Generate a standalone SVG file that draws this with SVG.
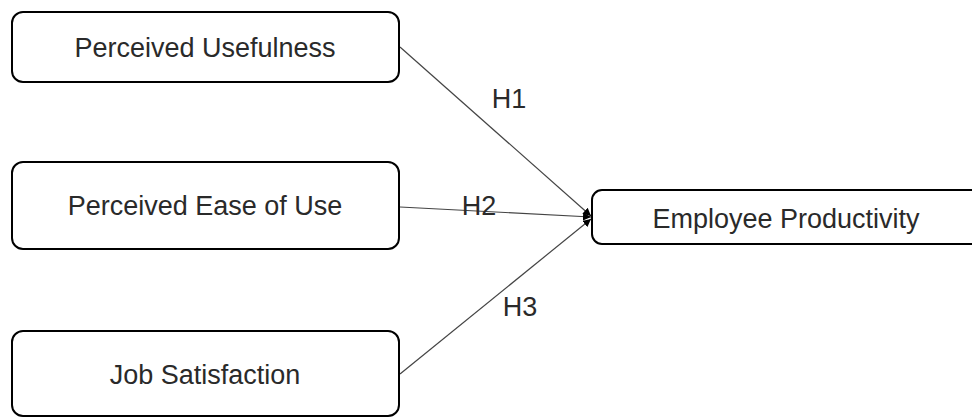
<svg xmlns="http://www.w3.org/2000/svg" width="972" height="417" viewBox="0 0 972 417">
<style>
.box{fill:#fff;stroke:#000;stroke-width:2}
.lbl{font-family:"Liberation Sans",Arial,sans-serif;font-size:27px;fill:#2a2a2a;text-anchor:middle}
.edge{stroke:#444;stroke-width:1.2;fill:none;marker-end:url(#arr)}
</style>
<defs>
<marker id="arr" viewBox="0 0 10 10" refX="10" refY="5" markerWidth="8" markerHeight="8" markerUnits="userSpaceOnUse" orient="auto">
<path d="M0,0 L10,5 L0,10 z" fill="#000"/>
</marker>
</defs>
<rect x="0" y="0" width="972" height="417" fill="#fff"/>
<g id="connectors">
<line class="edge" x1="400" y1="47" x2="591" y2="216"/>
<line class="edge" x1="400" y1="207" x2="591" y2="217"/>
<line class="edge" x1="400" y1="374" x2="591" y2="219"/>
<text class="lbl" x="509" y="108">H1</text>
<text class="lbl" x="479" y="215">H2</text>
<text class="lbl" x="520" y="316">H3</text>
</g>
<g id="perceived-usefulness">
<rect class="box" x="12" y="12" width="387" height="70" rx="11"/>
<text class="lbl" x="205" y="57">Perceived Usefulness</text>
</g>
<g id="perceived-ease">
<rect class="box" x="12" y="162" width="387" height="87" rx="11"/>
<text class="lbl" x="205" y="215">Perceived Ease of Use</text>
</g>
<g id="job-satisfaction">
<rect class="box" x="12" y="331" width="387" height="85" rx="11"/>
<text class="lbl" x="205" y="384">Job Satisfaction</text>
</g>
<g id="employee-productivity">
<rect class="box" x="592" y="190" width="400" height="54" rx="10"/>
<text class="lbl" x="786" y="228">Employee Productivity</text>
</g>
</svg>
